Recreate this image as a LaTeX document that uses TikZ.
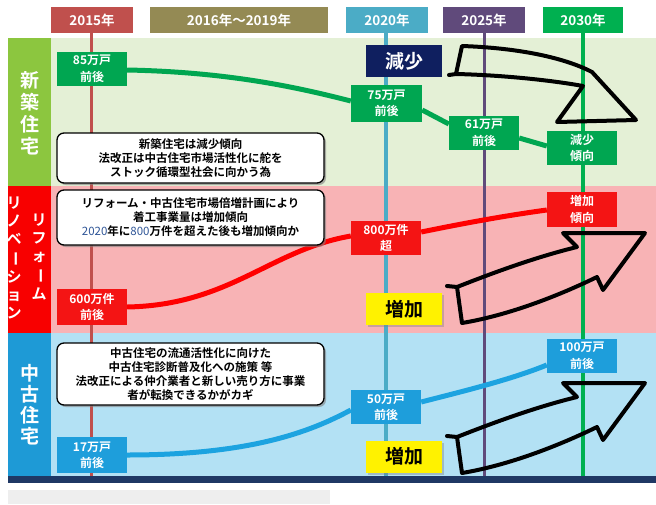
\documentclass[tikz,border=0pt]{standalone}
\usepackage{fontspec}
\setmainfont{Noto Sans CJK JP}[BoldFont={Noto Sans CJK JP Bold}]
\usetikzlibrary{shadows}
\definecolor{c15}{HTML}{C0504D}
\definecolor{c16}{HTML}{948A54}
\definecolor{c20}{HTML}{4BACC6}
\definecolor{c25}{HTML}{604A7B}
\definecolor{c30}{HTML}{00B050}
\definecolor{gfill}{HTML}{00A651}
\definecolor{rfill}{HTML}{F41414}
\definecolor{bfill}{HTML}{1E9EDB}
\definecolor{bandG}{HTML}{E4F0D6}
\definecolor{bandR}{HTML}{F8B3B5}
\definecolor{bandB}{HTML}{B3E1F4}
\definecolor{colG}{HTML}{8CC63F}
\definecolor{colR}{HTML}{F80000}
\definecolor{colB}{HTML}{1E9AD6}
\definecolor{navybox}{HTML}{0F1F5F}
\definecolor{navyline}{HTML}{1F3864}
\definecolor{numc}{HTML}{2F5597}
\definecolor{gcurve}{HTML}{00A651}
\definecolor{rcurve}{HTML}{FF0000}
\definecolor{bcurve}{HTML}{1CA3E0}
\definecolor{graybox}{HTML}{EEEEEE}
\begin{document}
\begin{tikzpicture}[x=1pt,y=-1pt,
  hdr/.style={fill=#1, text=white, font=\bfseries\fontsize{13.5}{15}\selectfont, minimum width=82pt, minimum height=26pt, inner sep=0pt},
  val/.style={fill=#1, text=white, font=\bfseries\fontsize{12}{16.5}\selectfont, align=center, minimum width=70pt, minimum height=35pt, inner sep=0pt},
  note/.style={draw=black, line width=1.3pt, fill=white, rounded corners=7pt, align=center, minimum width=267pt, inner sep=0pt, font=\bfseries\fontsize{11.5}{14}\selectfont, drop shadow={shadow xshift=2pt, shadow yshift=-2pt, opacity=0.6}},
  bigbox/.style={fill=#1, font=\bfseries\fontsize{19}{21}\selectfont, minimum width=76pt, minimum height=32pt, inner sep=0pt},
  vline/.style={draw=#1, line width=3.5pt},
  curve/.style={draw=#1, line width=5pt},
  handarrow/.style={draw=black, line width=4pt, line join=round, line cap=round},
  sidelabel/.style={text=white, align=center, inner sep=0pt, font=\bfseries\fontsize{#1}{#1}\selectfont}
]
\useasboundingbox (0,0) rectangle (656,504);
\fill[white] (0,0) rectangle (656,504);
% bands
\fill[bandG] (51,38) rectangle (656,186);
\fill[bandR] (51,186) rectangle (656,333);
\fill[bandB] (51,333) rectangle (656,476);
\fill[colG] (8,38) rectangle (51,186);
\fill[colR] (8,186) rectangle (51,333);
\fill[colB] (8,333) rectangle (51,476);
\fill[navyline] (8,476) rectangle (656,483);
\fill[graybox] (8,490) rectangle (330,504);
\coordinate (bot) at (0,476);
% side labels
\node[sidelabel=19] (lblnew) at (29.5,113) {新\\[3pt]築\\[3pt]住\\[3pt]宅};
\node[sidelabel=15] (lblreno) at (14,258) {リ\\[3pt]ノ\\[3pt]ベ\\[3pt]\rotatebox[origin=c]{-90}{ー}\\[3pt]シ\\[3pt]ョ\\[3pt]ン};
\node[sidelabel=15] (lblref) at (39,257) {リ\\[3pt]フ\\[3pt]ォ\\[3pt]\rotatebox[origin=c]{-90}{ー}\\[3pt]ム};
\node[sidelabel=19] (lblused) at (29.5,405) {中\\[2pt]古\\[2pt]住\\[2pt]宅};
% headers
\node[hdr=c15] (h15) at (92,20) {2015年};
\node[hdr=c16, minimum width=178pt] (h16) at (239,20) {2016年〜2019年};
\node[hdr=c20] (h20) at (387,20) {2020年};
\node[hdr=c25] (h25) at (484,20) {2025年};
\node[hdr=c30, minimum width=80pt] (h30) at (583,20) {2030年};
% vertical year lines
\draw[vline=c15, line width=3pt] ([xshift=-1pt]h15.south) -- ([xshift=-1pt]h15.south |- bot);
\draw[vline=c20] ([xshift=-1pt]h20.south) -- ([xshift=-1pt]h20.south |- bot);
\draw[vline=c25, line width=3pt] (h25.south) -- (h25.south |- bot);
\draw[vline=c30] (h30.south) -- (h30.south |- bot);
% value nodes
\node[val=gfill, minimum height=34pt] (g85) at (92,69) {85万戸\\前後};
\node[val=gfill, minimum width=71pt, minimum height=37pt] (g75) at (386.5,103.5) {75万戸\\前後};
\node[val=gfill, minimum height=34pt] (g61) at (484,133) {61万戸\\前後};
\node[val=gfill, minimum height=34pt] (gdec) at (582,148) {減少\\傾向};
\node[val=rfill, minimum height=36pt] (r600) at (92,307) {600万件\\前後};
\node[val=rfill, minimum height=34pt] (r800) at (386,238) {800万件\\超};
\node[val=rfill, minimum height=35pt] (rinc) at (582,209.5) {増加\\傾向};
\node[val=bfill, minimum height=36pt] (b17) at (92,455) {17万戸\\前後};
\node[val=bfill, minimum height=34pt] (b50) at (386,407) {50万戸\\前後};
\node[val=bfill, minimum height=34pt] (b100) at (582,356) {100万戸\\前後};
% curves
\draw[curve=gcurve] (g85.east |- 0,70) .. controls (230,72) and (300,88) .. (g75.west |- 0,101);
\draw[curve=gcurve] (g75.east |- 0,110) -- (g61.west |- 0,124);
\draw[curve=gcurve] (g61.east |- 0,138) -- (gdec.west |- 0,146);
\draw[curve=rcurve] (r600.east |- 0,307) .. controls (230,305) and (270,250) .. (r800.west |- 0,236);
\draw[curve=rcurve] (r800.east |- 0,232) .. controls (470,222) and (510,215) .. (rinc.west |- 0,210);
\draw[curve=bcurve] (b17.east |- 0,455) .. controls (250,455) and (310,432) .. (b50.west |- 0,410);
\draw[curve=bcurve] (b50.east |- 0,402) .. controls (460,392) and (510,380) .. (b100.west |- 0,365);
% notes
\node[note, minimum height=50pt] (n1) at (190.5,158) {新築住宅は減少傾向\\法改正は中古住宅市場活性化に舵を\\ストック循環型社会に向かう為};
\node[note, minimum height=55pt] (n2) at (190.5,217.5) {リフォーム・中古住宅市場倍増計画により\\着工事業量は増加傾向\\{\mdseries\color{numc}2020}年に{\mdseries\color{numc}800}万件を超えた後も増加傾向か};
\node[note, minimum height=62pt] (n3) at (190.5,374) {中古住宅の流通活性化に向けた\\中古住宅診断普及化への施策 等\\法改正による仲介業者と新しい売り方に事業\\者が転換できるかがカギ};
% big labels
\node[bigbox=navybox, text=white] (dec) at (404,61) {減少};
\node[bigbox=yellow, text=black, drop shadow={shadow xshift=2pt, shadow yshift=-2pt, opacity=0.4}] (inc1) at (404,309) {増加};
\node[bigbox=yellow, text=black, drop shadow={shadow xshift=2pt, shadow yshift=-2pt, opacity=0.4}] (inc2) at (404,456.5) {増加};
% hand-drawn arrows
\draw[handarrow] (462,46) .. controls (520,48) and (565,58) .. (592,72) -- (636,120) -- (557,122) -- (583,86) .. controls (550,80) and (500,75) .. (456,74) -- (449,75) -- (456,74) -- cycle;
\foreach \dy in {0,150}{
\begin{scope}[shift={(0,\dy)}]
\draw[handarrow] (447,286) -- (457,287) .. controls (500,270) and (540,256) .. (577,247) -- (563,233) -- (645,233) -- (603,290) -- (597,277) .. controls (560,295) and (510,315) .. (462,323) -- (457,287);
\end{scope}}
\end{tikzpicture}
\end{document}
